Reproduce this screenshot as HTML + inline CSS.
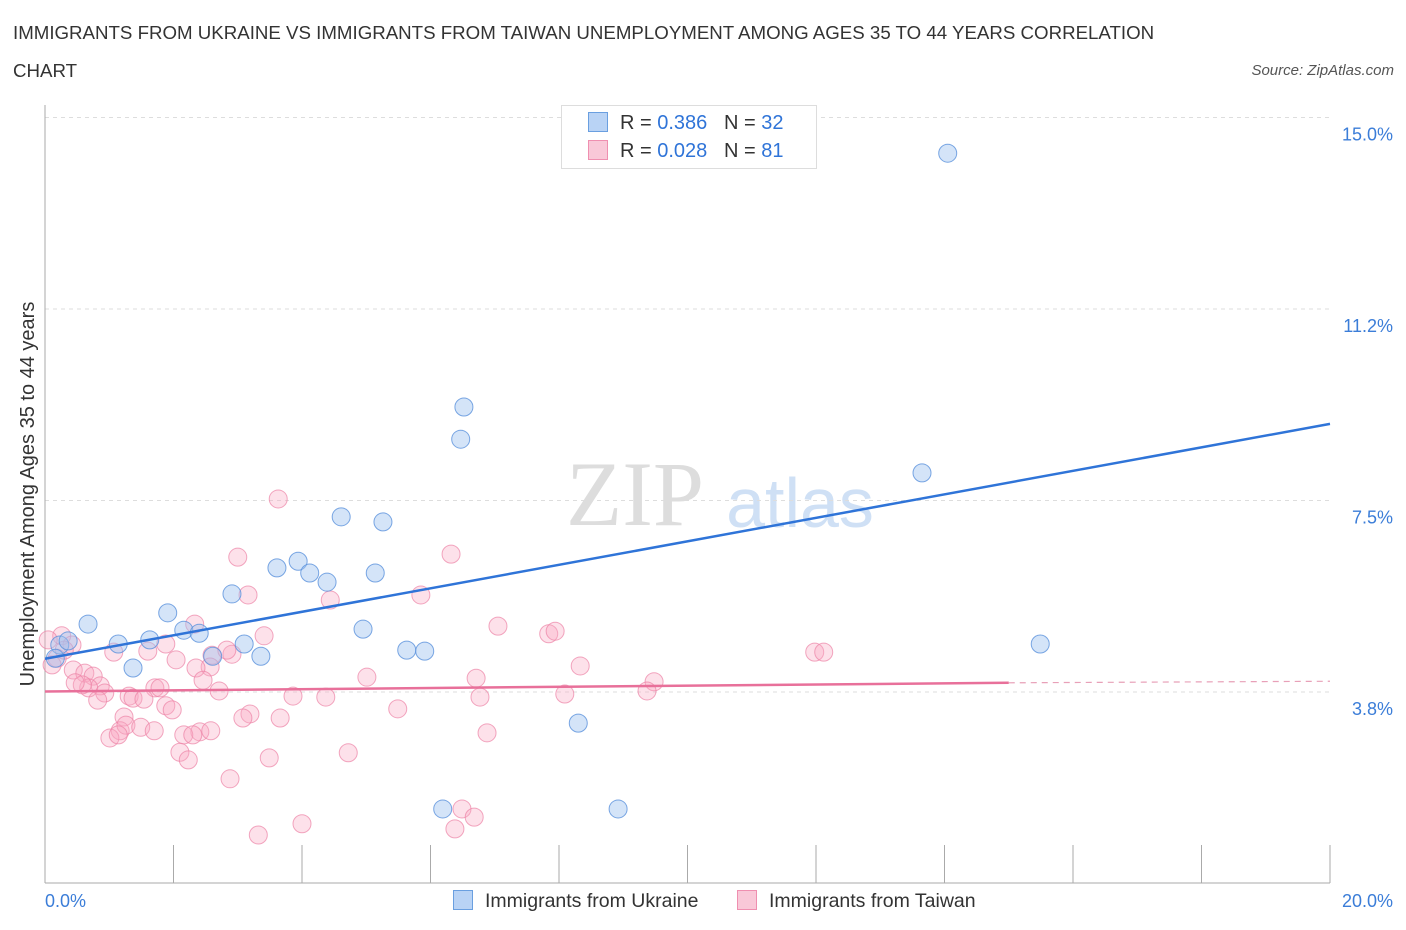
<!DOCTYPE html>
<html><head><meta charset="utf-8"><style>
body{margin:0;background:#fff;font-family:"Liberation Sans",sans-serif;}
#wrap{position:relative;width:1406px;height:930px;overflow:hidden;}
.t{position:absolute;white-space:nowrap;}
</style></head><body>
<div id="wrap">
<div class="t" style="left:13px;top:14px;font-size:18.7px;color:#333;line-height:38px;">IMMIGRANTS FROM UKRAINE VS IMMIGRANTS FROM TAIWAN UNEMPLOYMENT AMONG AGES 35 TO 44 YEARS CORRELATION<br>CHART</div>
<div class="t" style="right:12px;top:62px;font-size:15px;color:#555;font-style:italic;">Source: ZipAtlas.com</div>
<svg id="svg" width="1406" height="930" style="position:absolute;left:0;top:0"></svg>
</div>
<script>
const blueX=[14.05,6.52,6.47,13.65,4.61,5.26,3.94,3.61,4.12,5.14,4.39,2.91,1.91,0.67,2.16,2.40,1.63,1.14,15.49,3.10,4.95,5.63,5.91,2.61,3.36,1.37,0.23,0.36,0.16,8.30,6.19,8.92];
const blueY=[14.30,9.33,8.70,8.04,7.18,7.08,6.31,6.18,6.08,6.08,5.90,5.67,5.30,5.08,4.96,4.90,4.77,4.69,4.69,4.69,4.98,4.57,4.55,4.45,4.45,4.22,4.67,4.75,4.41,3.14,1.46,1.46];
const pinkX=[3.63,6.32,3.00,3.16,5.85,4.44,7.05,2.33,7.84,7.94,3.41,0.26,0.05,0.42,1.88,1.07,1.60,11.98,12.12,2.60,2.91,2.83,2.04,2.57,8.33,2.35,0.44,0.62,5.01,6.71,9.48,0.75,2.46,1.71,1.79,2.71,0.86,0.68,0.58,0.47,3.86,4.37,6.77,8.09,9.37,1.31,1.37,0.93,0.82,1.54,1.88,1.98,3.19,5.49,1.23,3.08,3.66,1.17,1.26,1.49,1.70,2.41,2.16,2.30,2.58,6.88,1.01,1.14,2.10,4.72,3.49,2.23,2.88,3.32,4.00,6.38,6.49,6.68,0.19,0.30,0.11];
const pinkY=[7.53,6.45,6.39,5.65,5.65,5.55,5.04,5.08,4.89,4.94,4.85,4.85,4.77,4.67,4.69,4.53,4.55,4.53,4.53,4.47,4.49,4.57,4.38,4.24,4.26,4.22,4.18,4.12,4.04,4.02,3.95,4.06,3.98,3.83,3.83,3.77,3.87,3.83,3.89,3.93,3.67,3.65,3.65,3.71,3.77,3.67,3.63,3.73,3.59,3.61,3.48,3.40,3.32,3.42,3.26,3.24,3.24,2.99,3.10,3.06,2.99,2.97,2.91,2.91,2.99,2.95,2.85,2.91,2.57,2.56,2.46,2.42,2.05,0.95,1.17,1.07,1.46,1.30,4.41,4.57,4.28];
const blueTrend=[4.4,9.0];
const pinkTrend=[3.76,3.93,3.96];
const yTicks=[3.75,7.5,11.25,15.0];
const yLabels=["3.8%","7.5%","11.2%","15.0%"];
const NS="http://www.w3.org/2000/svg";
const svg=document.getElementById('svg');
const X=v=>45+v/20*1285, Y=v=>883.5-v*51.07;
function el(tag,a,p){const e=document.createElementNS(NS,tag);for(const k in a)e.setAttribute(k,a[k]);(p||svg).appendChild(e);return e;}
let w=el('text',{x:635,y:525,'font-size':92,'font-family':'Liberation Serif',fill:'#ddd','text-anchor':'middle'});w.textContent='ZIP';

let w2=el('text',{x:800,y:527,'font-size':70,'font-family':'Liberation Sans',fill:'#cfe0f5','text-anchor':'middle'});w2.textContent='atlas';

yTicks.forEach((t,i)=>{
 const g=el('line',{x1:45,x2:1330,y1:Y(t),y2:Y(t),stroke:'#ddd','stroke-dasharray':'4,4'});
 
 const l=el('text',{x:1393,y:Y(t)+23,'font-size':18,fill:'#3b7dd8','text-anchor':'end'});l.textContent=yLabels[i];
 
});
let ax=el('line',{x1:45,x2:45,y1:105,y2:883,stroke:'#aaa'});
let bx=el('line',{x1:45,x2:1330,y1:883,y2:883,stroke:'#aaa'});
for(let i=0;i<=10;i++){const t=el('line',{x1:X(i*2),x2:X(i*2),y1:845,y2:883,stroke:'#aaa'});}
[[0,'0.0%','start',45],[20,'20.0%','end',1393]].forEach(d=>{const t=el('text',{x:d[3],y:907,'font-size':18,fill:'#3b7dd8','text-anchor':d[2]});t.textContent=d[1];});
let yt=el('text',{transform:'translate(34,494) rotate(-90)','font-size':20,fill:'#333','text-anchor':'middle'});yt.textContent='Unemployment Among Ages 35 to 44 years';

pinkX.forEach((x,i)=>{const c=el('circle',{cx:X(x),cy:Y(pinkY[i]),r:9,fill:'rgba(248,170,195,0.35)',stroke:'rgba(236,130,165,0.7)','stroke-width':1});
});
blueX.forEach((x,i)=>{const c=el('circle',{cx:X(x),cy:Y(blueY[i]),r:9,fill:'rgba(160,196,240,0.45)',stroke:'rgba(90,145,220,0.8)','stroke-width':1});
});
let bt=el('line',{x1:X(0),y1:Y(blueTrend[0]),x2:X(20),y2:Y(blueTrend[1]),stroke:'#2f74d8','stroke-width':2.5});

let pt=el('line',{x1:X(0),y1:Y(pinkTrend[0]),x2:X(15),y2:Y(pinkTrend[1]),stroke:'#e8709a','stroke-width':2.5});

let pd=el('line',{x1:X(15),y1:Y(pinkTrend[1]),x2:X(20),y2:Y(pinkTrend[2]),stroke:'#e8a0b8','stroke-width':1.2,'stroke-dasharray':'6,5'});

</script>
<div class="t" style="left:561px;top:105px;width:254px;height:62px;border:1px solid #ddd;background:#fff;font-size:20px;color:#333;">
 <div style="position:absolute;left:26px;top:6px;"><span style="display:inline-block;width:18px;height:18px;background:#b9d3f5;border:1px solid #6a9fe0;vertical-align:-3px;margin-right:12px"></span>R = <span style="color:#2f74d8">0.386</span>&nbsp;&nbsp;&nbsp;N = <span style="color:#2f74d8">32</span></div>
 <div style="position:absolute;left:26px;top:34px;"><span style="display:inline-block;width:18px;height:18px;background:#f9c8d8;border:1px solid #ef8fb0;vertical-align:-3px;margin-right:12px"></span>R = <span style="color:#2f74d8">0.028</span>&nbsp;&nbsp;&nbsp;N = <span style="color:#2f74d8">81</span></div>
</div>
<div class="t" style="left:453px;top:890px;font-size:19.5px;color:#333;"><span style="display:inline-block;width:18px;height:18px;background:#b9d3f5;border:1px solid #6a9fe0;vertical-align:-3px;margin-right:12px"></span>Immigrants from Ukraine</div>
<div class="t" style="left:737px;top:890px;font-size:19.5px;color:#333;"><span style="display:inline-block;width:18px;height:18px;background:#f9c8d8;border:1px solid #ef8fb0;vertical-align:-3px;margin-right:12px"></span>Immigrants from Taiwan</div>
</body></html>
